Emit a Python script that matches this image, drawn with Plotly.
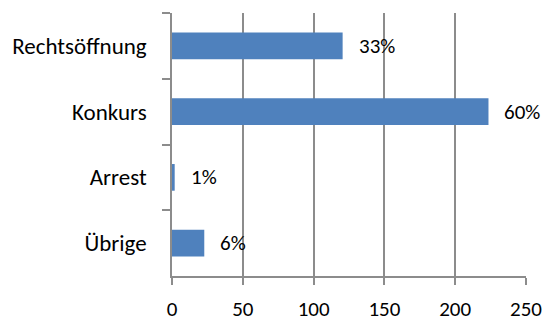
import plotly.graph_objects as go

categories = ["Rechtsöffnung", "Konkurs", "Arrest", "Übrige"]
values = [120.5, 223.5, 1.9, 22.8]
pct_labels = ["33%", "60%", "1%", "6%"]
x_ticks = [0, 50, 100, 150, 200, 250]

FONT = "Carlito, Calibri, Lato, sans-serif"
GRID = "#8c8c8c"

fig = go.Figure(go.Bar(
    x=values, y=categories, orientation="h",
    marker=dict(color="#4F81BD", line=dict(width=0)),
    hoverinfo="skip",
))

for v, c, t in zip(values, categories, pct_labels):
    fig.add_annotation(x=v, y=c, text=t, showarrow=False, xanchor="left",
                       xshift=14, font=dict(family=FONT, size=21, color="#000"))

fig.update_layout(
    width=547, height=321,
    margin=dict(l=172, r=21, t=13, b=45),
    paper_bgcolor="white", plot_bgcolor="white",
    bargap=0.594, showlegend=False,
    font=dict(family=FONT, size=23, color="#000"),
)
fig.update_xaxes(
    range=[0, 250], tickvals=x_ticks, showgrid=True, gridcolor=GRID, gridwidth=1.5,
    showline=True, linecolor=GRID, linewidth=1.5, ticks="outside", ticklen=7,
    tickcolor=GRID, tickwidth=1.5, zeroline=False, fixedrange=True,
    automargin=False, tickfont=dict(size=21), ticklabelstandoff=6,
)
fig.update_yaxes(
    autorange="reversed", showgrid=False, showline=True, linecolor=GRID,
    linewidth=1.5, ticks="outside", ticklen=8, tickcolor=GRID, tickwidth=1.5,
    tickson="boundaries", ticklabelstandoff=19, fixedrange=True,
    automargin=False,
)

fig.write_html(
    "out.html",
    config={"displayModeBar": False},
    post_script="document.body.style.margin='0';document.body.style.overflow='hidden';",
)
